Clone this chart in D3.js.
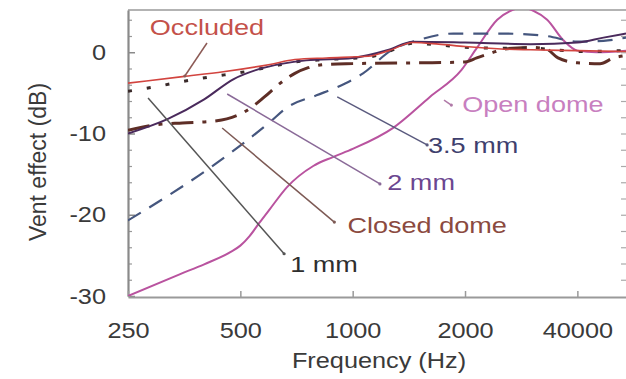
<!DOCTYPE html>
<html>
<head>
<meta charset="utf-8">
<script src="https://cdn.jsdelivr.net/npm/d3@7"></script>
<style>
  html, body { margin: 0; padding: 0; background: #fff; }
  svg { display: block; font-family: "Liberation Sans", Arial, Helvetica, sans-serif; }
</style>
</head>
<body>
<svg id="chart" width="626" height="379"></svg>
<script>
// Frequency axis (octave spaced) and level axis
const freqTicks = [250, 500, 1000, 2000, 4000];
const freqTickLabels = ["250", "500", "1000", "2000", "40000"];
const dbTicks = [0, -10, -20, -30];

// Vent effect curves: [frequency (Hz), level (dB)]
const occluded = [[250,-3.8],[350,-3.0],[450,-2.4],[600,-1.5],[700,-0.9],[850,-0.7],[1100,-0.5],[1250,0.2],[1450,1.2],[1700,1.0],[2000,0.7],[2500,0.4],[3000,0.3],[4000,0.2],[5400,0.1]];
const oneMm = [[250,-4.8],[300,-4.2],[350,-3.6],[420,-3.0],[500,-2.5],[600,-1.8],[700,-1.2],[850,-0.9],[1100,-0.6],[1250,0.1],[1450,1.1],[1700,0.9],[2000,0.6],[2500,0.5],[3000,0.5],[3500,0.3],[4000,0.1],[5400,0.2]];
const twoMm = [[250,-10.0],[320,-8.2],[400,-5.8],[480,-3.3],[550,-2.2],[650,-1.4],[750,-1.0],[1000,-0.7],[1250,0.3],[1450,1.3],[2000,1.2],[3000,1.0],[4000,1.2],[4700,1.8],[5400,2.3]];
const threeFiveMm = [[250,-20.7],[415,-14.2],[600,-8.6],[667,-6.8],[800,-5.3],[908,-4.3],[1066,-2.6],[1266,0.2],[1500,1.5],[1860,2.3],[2500,2.3],[3300,2.0],[4000,1.3],[4700,1.4],[5400,1.8]];
const closedDome = [[250,-9.6],[300,-8.9],[350,-8.7],[420,-8.5],[460,-8.2],[515,-7.3],[580,-5.5],[640,-3.8],[700,-2.6],[760,-1.9],[850,-1.5],[1000,-1.4],[1500,-1.3],[2000,-1.2],[2150,-0.7],[2350,-0.1],[2550,0.4],[3000,0.6],[3300,0.4],[3550,-0.7],[4000,-1.3],[4600,-1.4],[5000,-0.7],[5400,-0.4]];
const openDome = [[250,-30],[345,-27.3],[400,-26.1],[470,-24.6],[500,-23.8],[530,-22.6],[560,-21.1],[600,-19.3],[667,-16.6],[784,-14.0],[885,-12.9],[1000,-11.9],[1284,-9.3],[1610,-5.5],[1955,-2.2],[2150,0.5],[2440,4.0],[2650,5.1],[2850,5.5],[3050,5.1],[3320,4.0],[3665,1.5],[4000,0.2],[4500,0.0],[5400,0.2]];

const svg = d3.select("#chart");
const plotLeft = 128, plotRight = 626, plotTop = 10, plotBottom = 296;
const x = d3.scaleLog().domain([250, 5400]).range([plotLeft, plotRight]);
const y = d3.scaleLinear().domain([-30, 5.2]).range([plotBottom, plotTop]);

const SX = 1.15;           // horizontal stretch of axis text
const SXL = 1.23;          // horizontal stretch of curve labels
const FONT = 22;

// clip
svg.append("defs").append("clipPath").attr("id", "plot")
  .append("rect").attr("x", plotLeft).attr("y", plotTop).attr("width", plotRight - plotLeft).attr("height", plotBottom - plotTop);

// frame: top border
svg.append("line").attr("x1", plotLeft).attr("x2", plotRight).attr("y1", plotTop).attr("y2", plotTop)
  .attr("stroke", "#9a9a9a").attr("stroke-width", 1.5);

// right side ticks
const rightAxis = svg.append("g").attr("transform", `translate(${plotRight},0)`)
  .call(d3.axisRight(y).tickValues(d3.range(-28, 5, 2)).tickSize(-5).tickFormat(""));
rightAxis.select(".domain").remove();
rightAxis.selectAll("line").attr("stroke", "#aaa").attr("stroke-width", 1.2);

// minor ticks on left axis
const minor = svg.append("g").attr("transform", `translate(${plotLeft},0)`)
  .call(d3.axisLeft(y).tickValues(d3.range(-28, 5, 2).filter(v => v % 10 !== 0)).tickSize(-4).tickFormat(""));
minor.select(".domain").remove();
minor.selectAll("line").attr("stroke", "#999").attr("stroke-width", 1.2);

// left axis
const yAxis = svg.append("g").attr("transform", `translate(${plotLeft},0)`)
  .call(d3.axisLeft(y).tickValues(dbTicks).tickSize(-7).tickSizeOuter(0).tickPadding(22).tickFormat(d3.format("d")));
yAxis.select(".domain").attr("stroke", "#8a8a8a").attr("stroke-width", 2.2);
yAxis.selectAll("line").attr("stroke", "#8a8a8a").attr("stroke-width", 1.5);
yAxis.selectAll("text")
  .attr("font-size", FONT).attr("fill", "#3a3a3a").attr("font-family", "Liberation Sans, Arial, sans-serif")
  .attr("x", -22 / SX).attr("transform", `scale(${SX},1)`).text(d => String(d));

// bottom axis
const xAxis = svg.append("g").attr("transform", `translate(0,${plotBottom + 1})`)
  .call(d3.axisBottom(x).tickValues(freqTicks).tickSize(-6).tickSizeOuter(0).tickPadding(25)
    .tickFormat((d, i) => freqTickLabels[i]));
xAxis.select(".domain").attr("stroke", "#9a9a9a").attr("stroke-width", 2.2);
xAxis.selectAll("line").attr("stroke", "#9a9a9a").attr("stroke-width", 1.5);
xAxis.selectAll("text")
  .attr("font-size", FONT).attr("fill", "#3a3a3a").attr("font-family", "Liberation Sans, Arial, sans-serif")
  .attr("y", 25).attr("dy", "0.71em").attr("transform", `scale(${SX},1)`);

// axis titles
svg.append("text").attr("transform", `translate(${(plotLeft + plotRight) / 2 + 2},368) scale(${SX},1)`)
  .attr("text-anchor", "middle").attr("font-size", FONT).attr("fill", "#3a3a3a").text("Frequency (Hz)");
svg.append("text").attr("transform", `translate(46,162) rotate(-90)`)
  .attr("text-anchor", "middle").attr("font-size", 23).attr("fill", "#3a3a3a").text("Vent effect (dB)");

// curves
const line = d3.line().x(d => x(d[0])).y(d => y(d[1])).curve(d3.curveMonotoneX);
const plot = svg.append("g").attr("clip-path", "url(#plot)");

const series = [
  { data: openDome,    color: "#b9539f", width: 2,   dash: null },
  { data: threeFiveMm, color: "#45567e", width: 2.2, dash: "15 10" },
  { data: closedDome,  color: "#5e2e26", width: 3,   dash: "22 9 4 9" },
  { data: oneMm,       color: "#3a2a2a", width: 3,   dash: "4 15" },
  { data: twoMm,       color: "#4a2a5c", width: 2,   dash: null },
  { data: occluded,    color: "#d2443f", width: 1.6, dash: null }
];
plot.selectAll("path.curve").data(series).join("path")
  .attr("class", "curve")
  .attr("d", d => line(d.data))
  .attr("fill", "none")
  .attr("stroke", d => d.color)
  .attr("stroke-width", d => d.width)
  .attr("stroke-dasharray", d => d.dash)
  .attr("stroke-linecap", "butt");

// annotations: label text, label anchor and leader line, in data units
const notes = [
  { text: "Occluded",    color: "#c4514a", lead: "#8c5a55", at: [286, 2.12],  from: [407, 1.14],  to: [355, -2.92] },
  { text: "Open dome",   color: "#c87fc0", lead: "#b07aa8", at: [1965, -7.35], from: [1757, -5.88], to: [1838, -6.5] },
  { text: "3.5 mm",      color: "#3f3f6e", lead: "#5a5a7e", at: [1592, -12.4], from: [909, -5.5],  to: [1583, -11.4] },
  { text: "2 mm",        color: "#6b4690", lead: "#8a6a98", at: [1238, -16.95], from: [461, -5.14], to: [1183, -16.2] },
  { text: "Closed dome", color: "#8b4a40", lead: "#7d5a55", at: [968, -22.2],  from: [447, -9.32], to: [893, -20.9] },
  { text: "1 mm",        color: "#2e2e2e", lead: "#555",    at: [680, -27.05], from: [283, -5.63], to: [655, -24.8] }
];
const ann = svg.append("g");
ann.selectAll("line").data(notes).join("line")
  .attr("x1", d => x(d.from[0])).attr("y1", d => y(d.from[1]))
  .attr("x2", d => x(d.to[0])).attr("y2", d => y(d.to[1]))
  .attr("stroke", d => d.lead).attr("stroke-width", 1.5);
ann.selectAll("circle").data(notes).join("circle")
  .attr("cx", d => x(d.to[0])).attr("cy", d => y(d.to[1])).attr("r", 1.6)
  .attr("fill", d => d.lead);
ann.selectAll("text").data(notes).join("text")
  .attr("transform", d => `translate(${x(d.at[0])},${y(d.at[1])}) scale(${SXL},1)`)
  .attr("font-size", FONT).attr("fill", d => d.color).text(d => d.text);
</script>
</body>
</html>
